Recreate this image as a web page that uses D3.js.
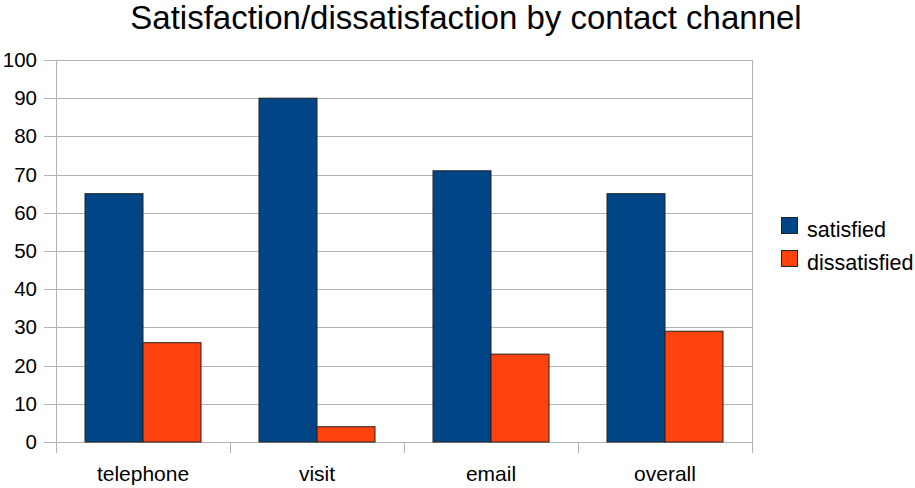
<!DOCTYPE html>
<html>
<head>
<meta charset="utf-8">
<script src="https://cdn.jsdelivr.net/npm/d3@7"></script>
<style>
  html, body { margin: 0; padding: 0; background: #fff; }
  svg { display: block; font-family: "Liberation Sans", Arial, sans-serif; }
</style>
</head>
<body>
<svg id="chart" width="915" height="488"></svg>
<script>
// Survey results by contact channel (percent)
const categories = ["telephone", "visit", "email", "overall"];
const seriesNames = ["satisfied", "dissatisfied"];
const satisfied = [65, 90, 71, 65];
const dissatisfied = [26, 4, 23, 29];
const yTicks = [0, 10, 20, 30, 40, 50, 60, 70, 80, 90, 100];
const colors = ["#004586", "#ff420e"];

const svg = d3.select("#chart");
const margin = { left: 56, right: 163, top: 60, bottom: 46 };
const W = 915, H = 488;
const x0 = margin.left, x1 = W - margin.right;
const y0 = H - margin.bottom, y1 = margin.top;

const x = d3.scaleBand().domain(categories).range([x0, x1]).paddingInner(0).paddingOuter(0);
const xs = d3.scaleBand().domain(seriesNames).range([0, x.bandwidth()]).paddingInner(0).paddingOuter(0.5);
const y = d3.scaleLinear().domain([0, 100]).range([y0, y1]);

const grid = "#b3b3b3";

// Title
svg.append("text")
  .attr("x", 466).attr("y", 29)
  .attr("text-anchor", "middle")
  .attr("font-size", 33)
  .attr("fill", "#000")
  .text("Satisfaction/dissatisfaction by contact channel");

// Horizontal grid lines with tick stubs
svg.append("g").selectAll("line").data(yTicks).join("line")
  .attr("x1", x0 - 12).attr("x2", x1)
  .attr("y1", d => Math.round(y(d)) + 0.5).attr("y2", d => Math.round(y(d)) + 0.5)
  .attr("stroke", grid).attr("stroke-width", 1);

// Y axis labels
const yAxis = d3.axisLeft(y).tickValues(yTicks).tickSize(0).tickPadding(19);
const gy = svg.append("g").attr("transform", `translate(${x0},0)`).call(yAxis);
gy.select(".domain").remove();
gy.selectAll("text").attr("font-size", 20.5).attr("fill", "#000")
  .attr("font-family", "Liberation Sans, Arial, sans-serif");

// Left and right frame lines
svg.append("line").attr("x1", x0 + 0.5).attr("x2", x0 + 0.5).attr("y1", y1).attr("y2", y0 + 11)
  .attr("stroke", grid);
svg.append("line").attr("x1", x1 + 0.5).attr("x2", x1 + 0.5).attr("y1", y1).attr("y2", y0 + 11)
  .attr("stroke", grid);

// Category boundary ticks
const bounds = categories.slice(1).map(c => x(c));
svg.append("g").selectAll("line").data(bounds).join("line")
  .attr("x1", d => Math.round(d) + 0.5).attr("x2", d => Math.round(d) + 0.5)
  .attr("y1", y0).attr("y2", y0 + 11)
  .attr("stroke", grid);

// X axis labels
const xAxis = d3.axisBottom(x).tickSize(0).tickPadding(24);
const gx = svg.append("g").attr("transform", `translate(0,${y0})`).call(xAxis);
gx.select(".domain").remove();
gx.selectAll("text").attr("font-size", 21).attr("fill", "#000")
  .attr("font-family", "Liberation Sans, Arial, sans-serif");

// Bars
const rows = categories.map((c, i) => ({ cat: c, values: [satisfied[i], dissatisfied[i]] }));
const groups = svg.append("g").selectAll("g").data(rows).join("g")
  .attr("transform", d => `translate(${x(d.cat)},0)`);
groups.selectAll("rect")
  .data(d => d.values.map((v, j) => ({ name: seriesNames[j], value: v, j })))
  .join("rect")
  .attr("x", d => xs(d.name))
  .attr("y", d => y(d.value))
  .attr("width", xs.bandwidth())
  .attr("height", d => y(0) - y(d.value))
  .attr("fill", d => colors[d.j])
  .attr("stroke", "#222")
  .attr("stroke-width", 1);

// Legend
const legend = svg.append("g").attr("transform", "translate(781,217)");
const items = legend.selectAll("g").data(seriesNames).join("g")
  .attr("transform", (d, i) => `translate(0,${i * 33})`);
items.append("rect")
  .attr("x", 0.5).attr("y", 0.5).attr("width", 16).attr("height", 16)
  .attr("fill", (d, i) => colors[i]).attr("stroke", "#222");
items.append("text")
  .attr("x", 26).attr("y", 20)
  .attr("font-size", 21.5).attr("fill", "#000")
  .text(d => d);
</script>
</body>
</html>
